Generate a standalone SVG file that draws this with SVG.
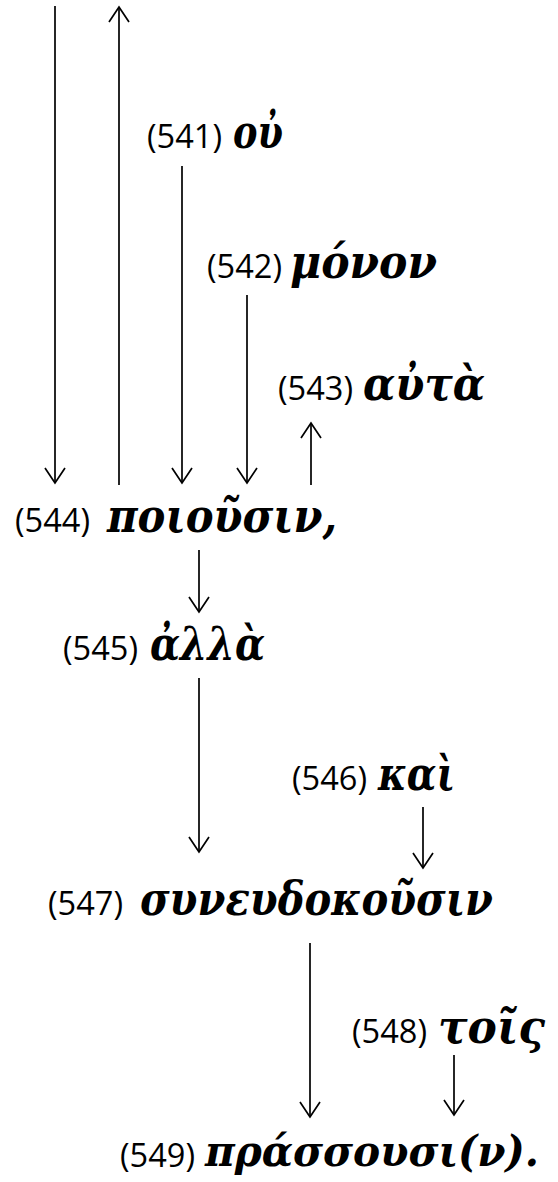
<svg xmlns="http://www.w3.org/2000/svg" width="558" height="1182" viewBox="0 0 558 1182">
<style>
.num{font-family:"Open Sans","Liberation Sans",sans-serif;font-size:32px;fill:#000}
.gr{font-family:"DejaVu Serif","Liberation Serif",serif;font-size:47px;font-weight:bold;font-style:italic;fill:#000}
.c{stroke:#000;stroke-width:1.7;fill:none}
</style>
<defs>
<marker id="arr" viewBox="-17 -12 19 24" refX="0" refY="0" markerWidth="19" markerHeight="24" orient="auto" markerUnits="userSpaceOnUse">
<path d="M-15,-10 L0,0 L-15,10" fill="none" stroke="#000" stroke-width="1.7"/>
</marker>
</defs>
<rect width="558" height="1182" fill="#fff"/>
<g id="connectors">
<line class="c" x1="55" y1="6" x2="55" y2="483" marker-end="url(#arr)"/>
<line class="c" x1="119" y1="485" x2="119" y2="7" marker-end="url(#arr)"/>
<line class="c" x1="182" y1="166" x2="182" y2="483" marker-end="url(#arr)"/>
<line class="c" x1="247" y1="295" x2="247" y2="483" marker-end="url(#arr)"/>
<line class="c" x1="311" y1="485" x2="311" y2="423" marker-end="url(#arr)"/>
<line class="c" x1="199" y1="550" x2="199" y2="612" marker-end="url(#arr)"/>
<line class="c" x1="199" y1="678" x2="199" y2="852" marker-end="url(#arr)"/>
<line class="c" x1="423" y1="807" x2="423" y2="868" marker-end="url(#arr)"/>
<line class="c" x1="310" y1="943" x2="310" y2="1117" marker-end="url(#arr)"/>
<line class="c" x1="454" y1="1055" x2="454" y2="1115" marker-end="url(#arr)"/>
</g>
<g id="n541"><text class="num" x="147" y="148" textLength="75" lengthAdjust="spacingAndGlyphs">(541)</text><text class="gr" x="233" y="148" textLength="50" lengthAdjust="spacingAndGlyphs">οὐ</text></g>
<g id="n542"><text class="num" x="207" y="278" textLength="75" lengthAdjust="spacingAndGlyphs">(542)</text><text class="gr" x="290" y="278" textLength="147" lengthAdjust="spacingAndGlyphs">μόνον</text></g>
<g id="n543"><text class="num" x="278" y="400" textLength="75" lengthAdjust="spacingAndGlyphs">(543)</text><text class="gr" x="363" y="400" textLength="122" lengthAdjust="spacingAndGlyphs">αὐτὰ</text></g>
<g id="n544"><text class="num" x="15" y="532" textLength="75" lengthAdjust="spacingAndGlyphs">(544)</text><text class="gr" x="107" y="532" textLength="230" lengthAdjust="spacingAndGlyphs">ποιοῦσιν,</text></g>
<g id="n545"><text class="num" x="63" y="660" textLength="75" lengthAdjust="spacingAndGlyphs">(545)</text><text class="gr" x="150" y="660" textLength="115" lengthAdjust="spacingAndGlyphs">ἀλλὰ</text></g>
<g id="n546"><text class="num" x="292" y="790" textLength="75" lengthAdjust="spacingAndGlyphs">(546)</text><text class="gr" x="378" y="790" textLength="77" lengthAdjust="spacingAndGlyphs">καὶ</text></g>
<g id="n547"><text class="num" x="48" y="915" textLength="75" lengthAdjust="spacingAndGlyphs">(547)</text><text class="gr" x="140" y="915" textLength="353" lengthAdjust="spacingAndGlyphs">συνευδοκοῦσιν</text></g>
<g id="n548"><text class="num" x="352" y="1043" textLength="75" lengthAdjust="spacingAndGlyphs">(548)</text><text class="gr" x="438" y="1043" textLength="107" lengthAdjust="spacingAndGlyphs">τοῖς</text></g>
<g id="n549"><text class="num" x="120" y="1167" textLength="75" lengthAdjust="spacingAndGlyphs">(549)</text><text class="gr" x="205" y="1166" style="font-size:42px" textLength="334" lengthAdjust="spacingAndGlyphs">πράσσουσι(ν).</text></g>
</svg>
